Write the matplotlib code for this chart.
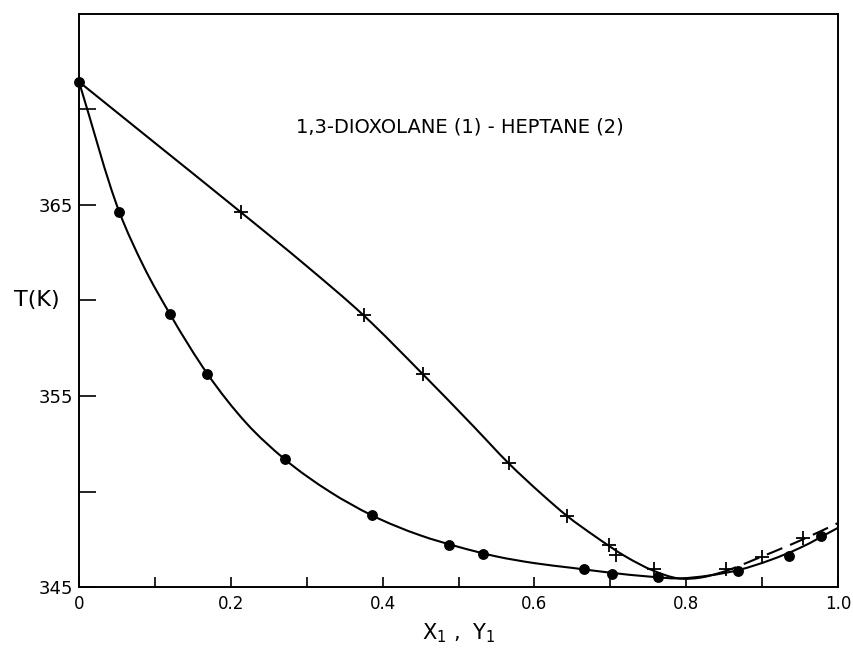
import matplotlib
matplotlib.use('Agg')
import matplotlib.pyplot as plt
from matplotlib.ticker import FixedLocator
from matplotlib.path import Path
from matplotlib.patches import PathPatch

# measured points: liquid (x1, filled circles) and vapour (y1, plus signs)
liq_x = [0.0, 0.053, 0.120, 0.169, 0.271, 0.386, 0.488, 0.532, 0.665, 0.702, 0.763, 0.868, 0.936, 0.977]
liq_T = [371.45, 364.65, 359.28, 356.17, 351.69, 348.75, 347.18, 346.71, 345.96, 345.70, 345.52, 345.84, 346.62, 347.67]
vap_x = [0.213, 0.375, 0.453, 0.566, 0.643, 0.698, 0.707, 0.757, 0.852, 0.900, 0.954]
vap_T = [364.63, 359.22, 356.14, 351.48, 348.72, 347.18, 346.68, 345.93, 345.93, 346.57, 347.58]

# hand-drawn curves, nodes
bub_x = [0.0, 0.053, 0.085, 0.12, 0.169, 0.22, 0.271, 0.33, 0.386, 0.45, 0.5, 0.55, 0.6,
         0.65, 0.7, 0.75, 0.79, 0.83, 0.87, 0.91, 0.95, 1.0]
bub_T = [371.45, 364.65, 361.8, 359.28, 356.17, 353.6, 351.69, 350.0, 348.75, 347.7,
         347.1, 346.6, 346.25, 346.0, 345.75, 345.55, 345.45, 345.6, 345.9, 346.4, 347.05, 348.1]
dew_x = [0.0, 0.1, 0.213, 0.3, 0.375, 0.453, 0.52, 0.566, 0.61, 0.643, 0.68, 0.72, 0.757,
         0.79, 0.82, 0.845]
dew_T = [371.45, 368.25, 364.63, 361.8, 359.22, 356.14, 353.4, 351.48, 349.85, 348.72, 347.65,
         346.6, 345.85, 345.45, 345.5, 345.75]
dew_dash_x = [0.845, 0.9, 0.954, 1.0]
dew_dash_T = [345.75, 346.6, 347.5, 348.35]

x_major = [0.0, 0.2, 0.4, 0.6, 0.8, 1.0]
x_labels = ['0', '0.2', '0.4', '0.6', '0.8', '1.0']
x_minor = [0.1, 0.3, 0.5, 0.7, 0.9]
y_ticks = [345, 350, 355, 360, 365, 370]
y_labels = ['345', '', '355', '', '365', '']

title_text = '1,3-DIOXOLANE (1) - HEPTANE (2)'


def smooth_segments(xs, ys):
    """Hermite curve through the nodes, expressed as cubic Bezier segments for a matplotlib Path."""
    n = len(xs)
    d = [(ys[i + 1] - ys[i]) / (xs[i + 1] - xs[i]) for i in range(n - 1)]
    h = [xs[i + 1] - xs[i] for i in range(n - 1)]
    m = [d[0]]
    for i in range(1, n - 1):
        m.append((h[i] * d[i - 1] + h[i - 1] * d[i]) / (h[i - 1] + h[i]))
    m.append(d[-1])
    segs = []
    for i in range(n - 1):
        p1 = (xs[i], ys[i])
        p2 = (xs[i + 1], ys[i + 1])
        c1 = (xs[i] + h[i] / 3, ys[i] + m[i] * h[i] / 3)
        c2 = (xs[i + 1] - h[i] / 3, ys[i + 1] - m[i + 1] * h[i] / 3)
        segs.append((p1, c1, c2, p2))
    return segs


def make_path(segs):
    verts = [segs[0][0]]
    codes = [Path.MOVETO]
    for s in segs:
        verts += [s[1], s[2], s[3]]
        codes += [Path.CURVE4] * 3
    return Path(verts, codes)


fig = plt.figure(figsize=(8.54, 6.60), dpi=100)
ax = fig.add_axes([0.0925, 0.1106, 0.8888, 0.8682])

bub_segs = smooth_segments(bub_x, bub_T)
ax.add_patch(PathPatch(make_path(bub_segs), fill=False, edgecolor='black', lw=1.5))

all_dew_x = dew_x + dew_dash_x[1:]
all_dew_T = dew_T + dew_dash_T[1:]
dew_segs = smooth_segments(all_dew_x, all_dew_T)
n_solid = len(dew_x) - 1
ax.add_patch(PathPatch(make_path(dew_segs[:n_solid]), fill=False, edgecolor='black', lw=1.5))
dash_patch = PathPatch(make_path(dew_segs[n_solid:]), fill=False, edgecolor='black', lw=1.5)
dash_patch.set_linestyle((0, (8, 4)))
ax.add_patch(dash_patch)

ax.plot(liq_x, liq_T, 'o', color='black', ms=6.8, clip_on=False)
ax.plot(vap_x, vap_T, '+', color='black', ms=10, mew=1.3)

ax.set_xlim(0, 1.0)
ax.set_ylim(345, 375)

ax.xaxis.set_major_locator(FixedLocator(x_major))
ax.set_xticklabels(x_labels, fontsize=12)
ax.xaxis.set_minor_locator(FixedLocator(x_minor))
ax.set_yticks(y_ticks)
ax.set_yticklabels(y_labels, fontsize=13)
ax.tick_params(axis='x', which='both', direction='in', length=7, width=1.2, pad=6)
ax.tick_params(axis='y', which='both', direction='in', length=12, width=1.2, pad=4)

for s in ax.spines.values():
    s.set_linewidth(1.4)

ax.set_xlabel('X$_1$ ,  Y$_1$', fontsize=15, labelpad=6)
ax.set_ylabel('T(K)', fontsize=16, rotation=0, ha='center', va='center')
ax.yaxis.set_label_coords(-0.056, 0.5)

ax.text(0.502, 0.803, title_text, transform=ax.transAxes, fontsize=14,
        ha='center', va='center')

fig.savefig('out.png', dpi=100)
